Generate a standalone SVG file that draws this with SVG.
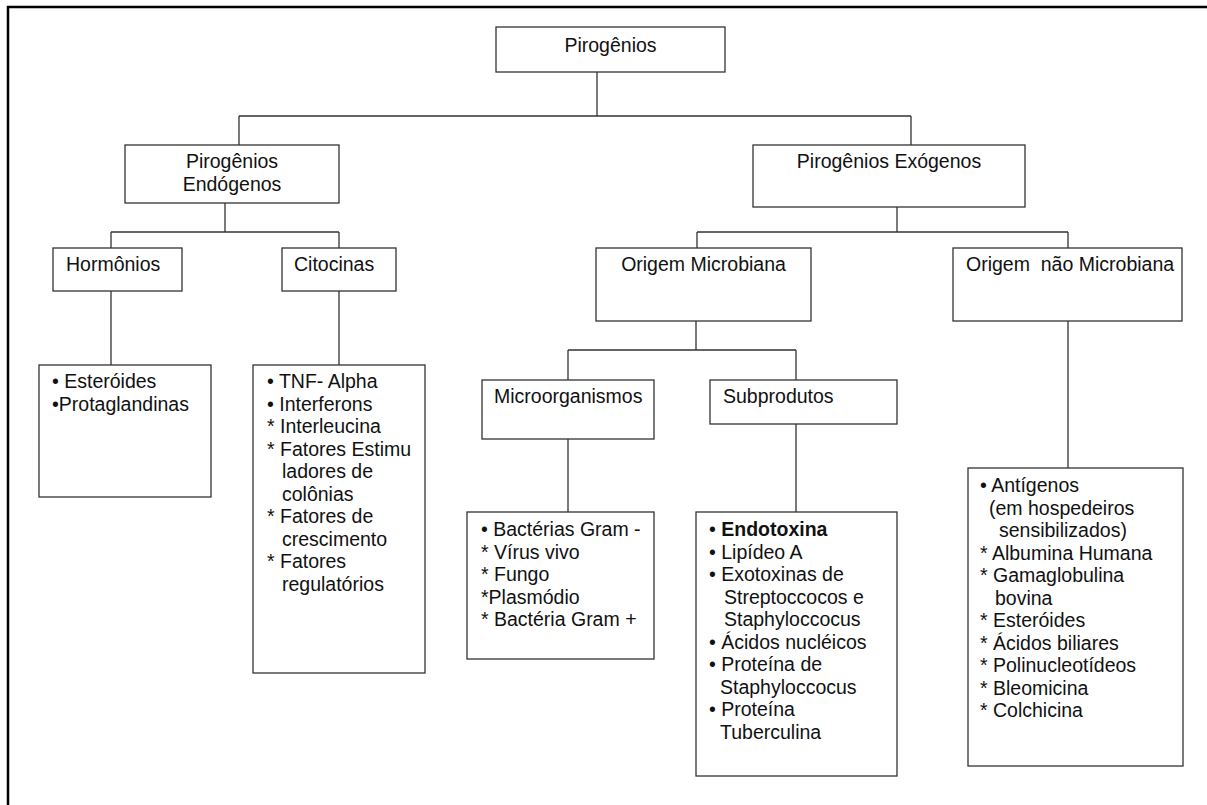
<svg xmlns="http://www.w3.org/2000/svg" width="1207" height="805" viewBox="0 0 1207 805">
<style>
.bg{fill:#fff}
.frame{fill:none;stroke:#000;stroke-width:2.5}
.box{fill:#fff;stroke:#333;stroke-width:1.3}
.con{fill:none;stroke:#333;stroke-width:1.3}
.t{font-family:"Liberation Sans",Arial,Helvetica,sans-serif;font-size:19.5px;fill:#111;white-space:pre}
.m{text-anchor:middle}
.b{font-weight:bold}
</style>
<rect class="bg" x="0" y="0" width="1207" height="805"/>
<path class="frame" d="M8,806 V7 H1208"/>
<g id="connectors">
<path class="con" d="M597,72 V116 M239,116 H911 M239,116 V145 M911,116 V145"/>
<path class="con" d="M225,203 V232 M111,232 H339 M111,232 V248 M339,232 V248"/>
<path class="con" d="M111,291 V365 M339,291 V365"/>
<path class="con" d="M897,207 V232 M697,232 H1068 M697,232 V248 M1068,232 V248"/>
<path class="con" d="M696,321 V350 M568,350 H796 M568,350 V380 M796,350 V380"/>
<path class="con" d="M568,439 V512 M796,424 V512 M1068,321 V468"/>
</g>
<g id="root">
<rect class="box" x="496" y="27" width="229" height="45"/>
<text class="t m" x="610.5" y="52">Pirogênios</text>
</g>
<g id="endogenos">
<rect class="box" x="125" y="145" width="214" height="58"/>
<text class="t m" x="232" y="168">Pirogênios</text>
<text class="t m" x="232" y="190.5">Endógenos</text>
</g>
<g id="exogenos">
<rect class="box" x="753" y="145" width="272" height="62"/>
<text class="t m" x="889" y="168">Pirogênios Exógenos</text>
</g>
<g id="hormonios">
<rect class="box" x="53" y="248" width="129" height="43"/>
<text class="t" x="66" y="271">Hormônios</text>
</g>
<g id="citocinas">
<rect class="box" x="282" y="248" width="114" height="43"/>
<text class="t" x="294" y="271">Citocinas</text>
</g>
<g id="origem-microbiana">
<rect class="box" x="596" y="248" width="215" height="73"/>
<text class="t m" x="703.5" y="271">Origem Microbiana</text>
</g>
<g id="origem-nao-microbiana">
<rect class="box" x="953" y="248" width="229" height="73"/>
<text class="t" x="966" y="271">Origem  não Microbiana</text>
</g>
<g id="microorganismos">
<rect class="box" x="482" y="380" width="172" height="59"/>
<text class="t" x="494" y="403">Microorganismos</text>
</g>
<g id="subprodutos">
<rect class="box" x="710" y="380" width="187" height="44"/>
<text class="t" x="723" y="403">Subprodutos</text>
</g>
<g id="hormonios-lista">
<rect class="box" x="39" y="365" width="172" height="132"/>
<text class="t"><tspan x="52" y="388">• Esteróides</tspan><tspan x="52" y="410.5">•Protaglandinas</tspan></text>
</g>
<g id="citocinas-lista">
<rect class="box" x="253" y="365" width="172" height="308"/>
<text class="t"><tspan x="267" y="388">• TNF- Alpha</tspan><tspan x="267" y="410.5">• Interferons</tspan><tspan x="267" y="433">* Interleucina</tspan><tspan x="267" y="455.5">* Fatores Estimu</tspan><tspan x="282" y="478">ladores de</tspan><tspan x="282" y="500.5">colônias</tspan><tspan x="267" y="523">* Fatores de</tspan><tspan x="282" y="545.5">crescimento</tspan><tspan x="267" y="568">* Fatores</tspan><tspan x="282" y="590.5">regulatórios</tspan></text>
</g>
<g id="microorganismos-lista">
<rect class="box" x="467" y="512" width="187" height="147"/>
<text class="t"><tspan x="481" y="536">• Bactérias Gram -</tspan><tspan x="481" y="558.5">* Vírus vivo</tspan><tspan x="481" y="581">* Fungo</tspan><tspan x="481" y="603.5">*Plasmódio</tspan><tspan x="481" y="626">* Bactéria Gram +</tspan></text>
</g>
<g id="subprodutos-lista">
<rect class="box" x="696" y="512" width="201" height="264"/>
<text class="t"><tspan x="709" y="536">• <tspan class="b">Endotoxina</tspan></tspan><tspan x="709" y="558.5">• Lipídeo A</tspan><tspan x="709" y="581">• Exotoxinas de</tspan><tspan x="724" y="603.5">Streptoccocos e</tspan><tspan x="724" y="626">Staphyloccocus</tspan><tspan x="709" y="648.5">• Ácidos nucléicos</tspan><tspan x="709" y="671">• Proteína de</tspan><tspan x="720" y="693.5">Staphyloccocus</tspan><tspan x="709" y="716">• Proteína</tspan><tspan x="720" y="738.5">Tuberculina</tspan></text>
</g>
<g id="nao-microbiana-lista">
<rect class="box" x="968" y="468" width="215" height="298"/>
<text class="t"><tspan x="980" y="492">• Antígenos</tspan><tspan x="989" y="514.5">(em hospedeiros</tspan><tspan x="999" y="537">sensibilizados)</tspan><tspan x="980" y="559.5">* Albumina Humana</tspan><tspan x="980" y="582">* Gamaglobulina</tspan><tspan x="995" y="604.5">bovina</tspan><tspan x="980" y="627">* Esteróides</tspan><tspan x="980" y="649.5">* Ácidos biliares</tspan><tspan x="980" y="672">* Polinucleotídeos</tspan><tspan x="980" y="694.5">* Bleomicina</tspan><tspan x="980" y="717">* Colchicina</tspan></text>
</g>
</svg>
